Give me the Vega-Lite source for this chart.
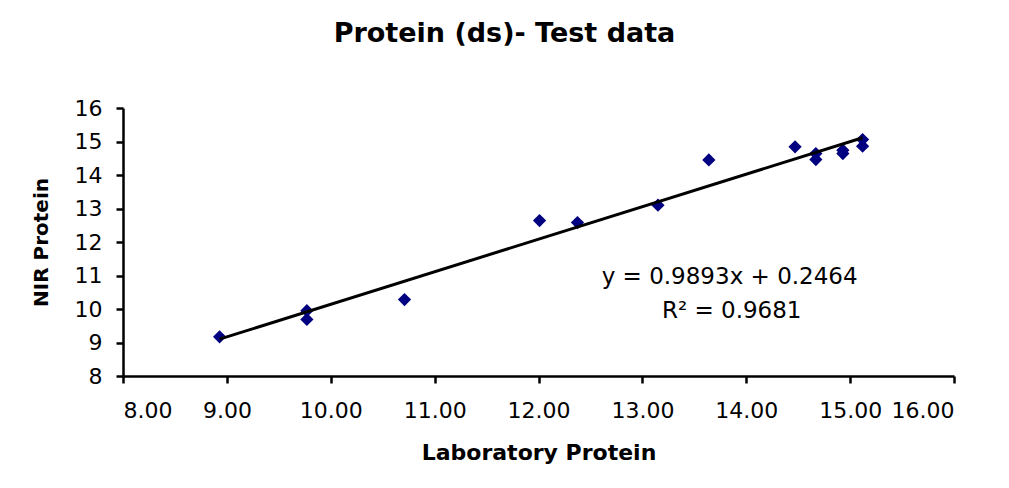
{
  "$schema": "https://vega.github.io/schema/vega-lite/v6.json",
  "width": 831,
  "height": 268,
  "autosize": "none",
  "padding": {"left": 123, "top": 108, "right": 55, "bottom": 112},
  "background": "white",
  "title": {
    "text": "Protein (ds)- Test data",
    "font": "DejaVu Sans",
    "fontSize": 27,
    "fontWeight": "bold",
    "color": "black",
    "anchor": "middle",
    "dx": -34,
    "offset": 49
  },
  "config": {
    "view": {"stroke": null},
    "axis": {
      "grid": false,
      "domainColor": "black",
      "domainWidth": 2.5,
      "tickColor": "black",
      "tickWidth": 2.5,
      "tickSize": 7,
      "labelFont": "DejaVu Sans",
      "labelFontSize": 22,
      "labelColor": "black",
      "labelOverlap": false,
      "titleFont": "DejaVu Sans",
      "titleFontWeight": "bold",
      "titleColor": "black"
    }
  },
  "data": {
    "values": [
      {"lab": 8.93, "nir": 9.17},
      {"lab": 9.77, "nir": 9.95},
      {"lab": 9.77, "nir": 9.69},
      {"lab": 10.71, "nir": 10.28},
      {"lab": 12.01, "nir": 12.64},
      {"lab": 12.375, "nir": 12.58},
      {"lab": 13.15, "nir": 13.1},
      {"lab": 13.64, "nir": 14.45},
      {"lab": 14.47, "nir": 14.84},
      {"lab": 14.67, "nir": 14.64},
      {"lab": 14.67, "nir": 14.46},
      {"lab": 14.93, "nir": 14.74},
      {"lab": 14.93, "nir": 14.64},
      {"lab": 15.12, "nir": 15.06},
      {"lab": 15.12, "nir": 14.86}
    ]
  },
  "encoding": {
    "x": {
      "field": "lab", "type": "quantitative",
      "scale": {"domain": [8, 16], "nice": false, "zero": false},
      "axis": {"title": "Laboratory Protein", "format": ".2f", "values": [8, 9, 10, 11, 12, 13, 14, 15, 16], "labelPadding": 17, "titleFontSize": 22, "titlePadding": 21}
    },
    "y": {
      "field": "nir", "type": "quantitative",
      "scale": {"domain": [8, 16], "nice": false, "zero": false},
      "axis": {"title": "NIR Protein", "values": [8, 9, 10, 11, 12, 13, 14, 15, 16], "labelPadding": 14, "titleFontSize": 20, "titlePadding": 23}
    }
  },
  "layer": [
    {
      "mark": {"type": "point", "shape": "diamond", "filled": true, "size": 175, "color": "#000080", "opacity": 1}
    },
    {
      "transform": [{"regression": "nir", "on": "lab"}],
      "mark": {"type": "line", "color": "black", "strokeWidth": 3}
    },
    {
      "data": {"values": [{"label": "y = 0.9893x + 0.2464", "lab": 13.84, "nir": 10.76}, {"label": "R² = 0.9681", "lab": 13.86, "nir": 9.73}]},
      "mark": {"type": "text", "font": "DejaVu Sans", "fontSize": 23, "color": "black", "align": "center", "baseline": "alphabetic"},
      "encoding": {
        "text": {"field": "label"}
      }
    }
  ]
}
